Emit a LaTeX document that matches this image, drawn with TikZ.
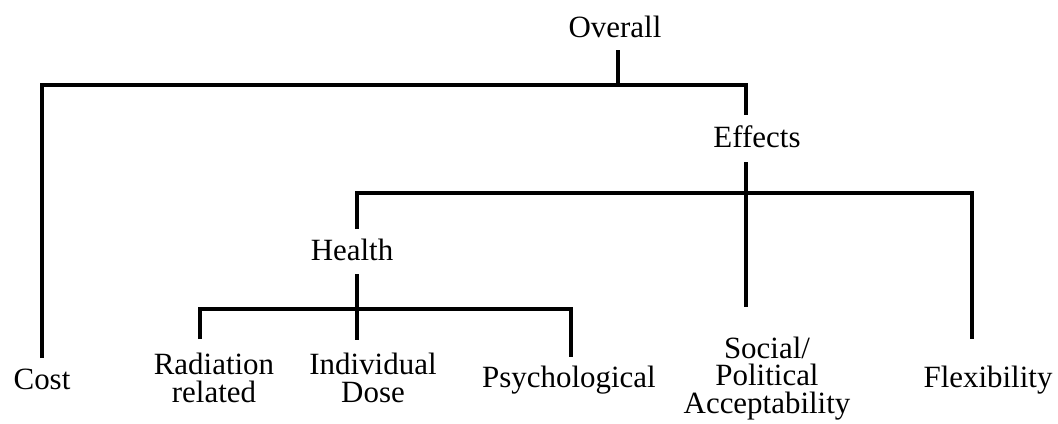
\documentclass[tikz,border=0pt]{standalone}
\usepackage{fontspec}
\setmainfont{Liberation Serif}
\begin{document}
\begin{tikzpicture}[x=0.025cm,y=-0.025cm,
  lbl/.style={inner sep=0pt,anchor=base,align=center,font=\fontsize{22}{19.5}\selectfont},
  tree/.style={line width=2.6pt}]
\useasboundingbox (0,0) rectangle (1058,423);

\node[lbl] (overall) at (615,37) {Overall};
\node[lbl] (effects) at (757,147) {Effects};
\node[lbl] (health) at (352,260) {Health};
\node[lbl] (cost) at (42,389) {Cost};
\node[lbl] (radiation) at (214,402) {Radiation\\related};
\node[lbl] (dose) at (373,402) {Individual\\Dose};
\node[lbl] (psych) at (569,387) {Psychological};
\node[lbl] (social) at (767,413) {Social/\\Political\\Acceptability};
\node[lbl] (flex) at (988,387) {Flexibility};

\coordinate (j1) at (618,85);
\coordinate (j2) at (746,193);
\coordinate (j3) at (357,309);

\coordinate (overall-s) at (618,50);
\coordinate (effects-n) at (746,115);
\coordinate (effects-s) at (746,162);
\coordinate (health-n) at (357,229);
\coordinate (health-s) at (357,274);
\coordinate (cost-n) at (42,358);
\coordinate (radiation-n) at (200,339);
\coordinate (dose-n) at (357,340);
\coordinate (psych-n) at (571,357);
\coordinate (social-n) at (746,307);
\coordinate (flex-n) at (972,339);

\draw[tree] (overall-s) -- (j1);
\draw[tree] (cost-n) |- (j1) -| (effects-n);
\draw[tree] (effects-s) -- (social-n);
\draw[tree] (health-n) |- (j2) -| (flex-n);
\draw[tree] (health-s) -- (dose-n);
\draw[tree] (radiation-n) |- (j3) -| (psych-n);
\end{tikzpicture}
\end{document}
